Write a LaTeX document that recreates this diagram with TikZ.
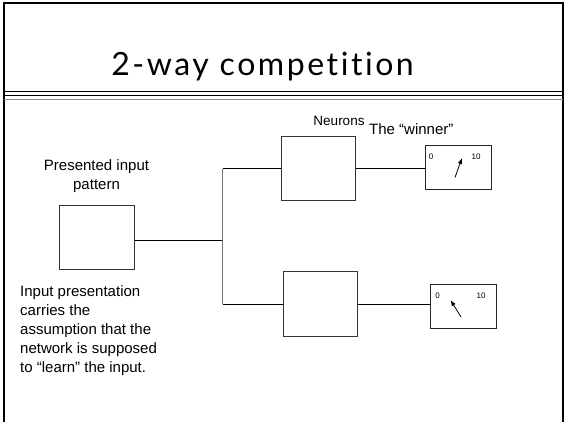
\documentclass[tikz,border=0pt]{standalone}
\usepackage{fontspec}
\setmainfont{Liberation Sans}
\newfontfamily\titlefont[LetterSpace=8,Ligatures=NoCommon]{Lato}
\usetikzlibrary{arrows.meta}
\begin{document}
\begin{tikzpicture}[x=1pt,y=-1pt,
  box/.style={draw=black!80,line width=1pt,inner sep=0pt},
  wire/.style={draw=black,line width=1pt},
  gauge/.style={draw=black!85,line width=1pt,inner sep=0pt,minimum width=66pt,minimum height=44pt},
  lbl/.style={font=\fontsize{15}{19}\selectfont,inner sep=0pt},
  tick/.style={font=\fontsize{8}{8}\selectfont,inner sep=0pt},
  needle/.style={line width=0.8pt,-{Latex[length=6pt,width=4.5pt]}}]
\useasboundingbox (0,0) rectangle (564,422);
% slide frame and title rule
\draw[line width=2pt] (3.5,422) -- (3.5,3.5) -- (562.8,3.5) -- (562.8,422);
\draw[line width=0.8pt] (3.5,91) -- (562.8,91);
\draw[line width=1.3pt] (3.5,95.5) -- (562.8,95.5);
\draw[line width=1pt,black!45] (3.5,99.3) -- (562.8,99.3);
\node[inner sep=0pt,anchor=base,font=\titlefont\fontsize{32}{32}\selectfont] (title) at (262.5,76) {2-way competition};

% input pattern
\node[box,minimum width=75pt,minimum height=64pt] (in) at (96.7,237) {};
\node[lbl,align=center] (inlbl) at (96.5,176) {Presented input\\pattern};
\node[lbl,align=left,anchor=north west] (note) at (20,285.5)
  {Input presentation\\carries the\\assumption that the\\network is supposed\\to “learn” the input.};

% neurons
\node[box,minimum width=74pt,minimum height=64pt] (n1) at (318.8,168.5) {};
\node[box,minimum width=74pt,minimum height=65pt] (n2) at (320.3,304) {};
\node[lbl,font=\fontsize{13.5}{15}\selectfont] (nlbl) at (339,121) {Neurons};
\node[lbl,anchor=west] (wlbl) at (369,129) {The “winner”};

% branching wires
\coordinate (split) at (222.7,240);
\coordinate (up) at (222.7,168.5);
\coordinate (down) at (222.7,304);
\draw[wire] (in.east |- split) -- (split);
\draw[line width=1pt,black!55] (up) -- (down);
\draw[wire] (up) -- (n1.west);
\draw[wire] (down) -- (n2.west);

% output gauges
\node[gauge] (m1) at (458,167.5) {};
\node[gauge] (m2) at (463.5,306.3) {};
\draw[wire] (n1.east) -- (n1.east -| m1.west);
\draw[wire] (n2.east) -- (n2.east -| m2.west);
\node[tick] (m1lo) at (431,157) {0};
\node[tick] (m1hi) at (476,157) {10};
\node[tick] (m2lo) at (437.5,295.5) {0};
\node[tick] (m2hi) at (481,295.5) {10};
\coordinate (p1a) at (455,177.5);
\coordinate (p1b) at (462,158);
\coordinate (p2a) at (461,317);
\coordinate (p2b) at (450.5,300);
\draw[needle] (p1a) -- (p1b);
\draw[needle] (p2a) -- (p2b);
\end{tikzpicture}
\end{document}
